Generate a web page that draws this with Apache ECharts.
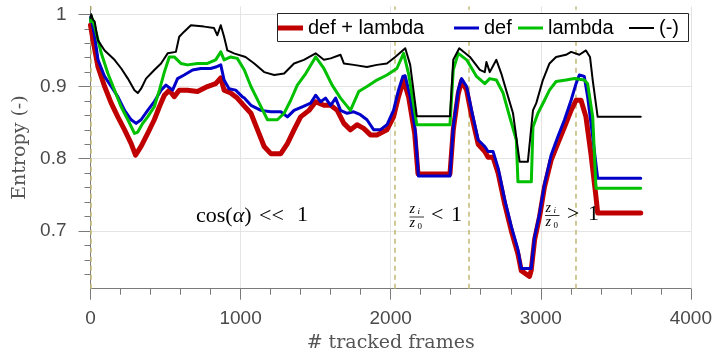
<!DOCTYPE html>
<html><head><meta charset="utf-8">
<script src="https://cdn.jsdelivr.net/npm/echarts@6/dist/echarts.min.js"></script>
<style>html,body{margin:0;padding:0;background:#fff}#c{width:715px;height:363px}</style>
</head><body><div id="c"></div>
<script>
const seriesNames = ['def + lambda', 'def', 'lambda', '(-)'];

const framesDefLambda = [0,17,50,94,138,182,227,271,300,337,381,425,459,492,525,558,591,646,713,779,834,868,890,934,978,1025,1069,1113,1157,1201,1268,1312,1356,1400,1456,1500,1555,1600,1644,1688,1732,1776,1820,1865,1908,1975,2019,2052,2086,2120,2160,2182,2395,2417,2450,2472,2506,2539,2583,2627,2649,2682,2716,2760,2804,2848,2870,2925,2936,2959,2992,3025,3069,3113,3158,3202,3235,3268,3301,3334,3368,3379,3666];
const valuesDefLambda = [0.985,0.964,0.927,0.9,0.877,0.858,0.84,0.821,0.805,0.817,0.835,0.854,0.872,0.888,0.895,0.886,0.895,0.895,0.893,0.9,0.904,0.912,0.895,0.891,0.884,0.873,0.863,0.84,0.817,0.807,0.807,0.821,0.84,0.858,0.867,0.879,0.874,0.874,0.867,0.849,0.84,0.847,0.842,0.833,0.833,0.84,0.858,0.886,0.909,0.885,0.835,0.779,0.779,0.84,0.89,0.908,0.895,0.86,0.82,0.81,0.802,0.802,0.78,0.737,0.7,0.668,0.645,0.637,0.645,0.688,0.72,0.761,0.798,0.821,0.844,0.867,0.881,0.881,0.858,0.807,0.747,0.725,0.725];

const framesDef = [0,3,28,50,94,138,182,227,271,304,337,381,425,470,503,547,580,624,680,735,801,834,868,890,923,967,1011,1025,1069,1135,1201,1268,1312,1356,1411,1467,1500,1533,1566,1600,1633,1666,1710,1754,1798,1842,1887,1930,1975,2019,2052,2081,2096,2130,2163,2185,2395,2417,2450,2472,2506,2539,2583,2627,2649,2682,2716,2760,2804,2848,2870,2936,2959,2992,3025,3069,3113,3158,3202,3235,3257,3290,3312,3346,3379,3666];
const valuesDef = [0.99,0.997,0.969,0.937,0.914,0.9,0.886,0.867,0.854,0.849,0.854,0.867,0.879,0.895,0.902,0.895,0.911,0.916,0.923,0.925,0.925,0.927,0.93,0.909,0.897,0.895,0.886,0.884,0.874,0.867,0.865,0.865,0.858,0.867,0.872,0.877,0.888,0.879,0.884,0.874,0.884,0.867,0.863,0.865,0.861,0.854,0.84,0.84,0.847,0.867,0.895,0.914,0.915,0.886,0.84,0.776,0.776,0.844,0.895,0.911,0.9,0.867,0.826,0.817,0.81,0.81,0.787,0.743,0.706,0.674,0.648,0.648,0.692,0.724,0.765,0.805,0.83,0.854,0.881,0.904,0.916,0.914,0.886,0.83,0.773,0.773];

const framesLambda = [0,5,28,72,116,160,204,249,293,315,348,381,425,459,492,525,558,602,646,713,779,834,868,890,934,978,1025,1069,1124,1179,1245,1290,1334,1378,1434,1500,1555,1610,1666,1732,1787,1842,1908,1975,2041,2086,2119,2174,2395,2417,2450,2506,2572,2627,2660,2704,2749,2793,2837,2848,2937,2948,2981,3025,3058,3102,3168,3224,3290,3312,3346,3368,3666];
const valuesLambda = [0.99,0.997,0.983,0.946,0.918,0.895,0.872,0.854,0.835,0.837,0.849,0.858,0.872,0.895,0.92,0.941,0.941,0.932,0.93,0.932,0.932,0.937,0.948,0.937,0.941,0.939,0.923,0.9,0.877,0.854,0.854,0.863,0.881,0.902,0.918,0.941,0.925,0.902,0.884,0.867,0.893,0.9,0.909,0.916,0.925,0.946,0.918,0.847,0.847,0.923,0.946,0.937,0.914,0.904,0.911,0.909,0.891,0.858,0.826,0.768,0.768,0.844,0.863,0.881,0.895,0.907,0.909,0.911,0.909,0.904,0.858,0.759,0.759];

const framesNone = [0,5,15,28,40,50,94,160,205,249,293,315,337,370,425,470,514,569,591,624,669,757,823,845,868,890,912,956,1033,1091,1157,1224,1290,1356,1422,1500,1555,1600,1666,1688,1754,1842,1908,1975,2030,2097,2130,2174,2395,2417,2457,2528,2594,2627,2638,2660,2704,2737,2782,2815,2859,2914,2948,2970,3014,3058,3102,3168,3202,3257,3301,3328,3346,3379,3666];
const valuesNone = [0.995,1.0,0.993,0.99,0.975,0.964,0.95,0.937,0.925,0.911,0.895,0.891,0.897,0.911,0.923,0.932,0.946,0.948,0.969,0.976,0.985,0.983,0.981,0.971,0.985,0.969,0.95,0.946,0.941,0.932,0.92,0.916,0.918,0.932,0.937,0.946,0.937,0.939,0.944,0.932,0.93,0.927,0.93,0.932,0.941,0.953,0.93,0.859,0.859,0.937,0.953,0.941,0.923,0.92,0.934,0.92,0.937,0.918,0.886,0.863,0.796,0.796,0.867,0.877,0.909,0.932,0.941,0.944,0.948,0.944,0.95,0.941,0.909,0.858,0.858];

const xTickValues = [0, 1000, 2000, 3000, 4000];
const yTickValues = [0.7, 0.8, 0.9, 1.0];
const yMinorTickValues = [0.64,0.66,0.68,0.72,0.74,0.76,0.78,0.82,0.84,0.86,0.88,0.92,0.94,0.96,0.98];
const regionBoundaries = [0, 2030, 2521, 3231];

const colors = ['#c00000', '#0000c8', '#00c000', '#000000'];
const widths = [5, 3, 3, 2];
const framesAll = [framesDefLambda, framesDef, framesLambda, framesNone];
const valuesAll = [valuesDefLambda, valuesDef, valuesLambda, valuesNone];

const chart = echarts.init(document.getElementById('c'), null, {renderer: 'canvas'});

const series = seriesNames.map((name, k) => ({
  name, type: 'line', showSymbol: false, symbol: 'none', animation: false,
  color: colors[k], itemStyle: {color: colors[k]},
  lineStyle: {color: colors[k], width: widths[k], join: 'round', cap: 'round'},
  data: framesAll[k].map((f, i) => [f, valuesAll[k][i]]),
  z: 2
}));
series[0].markLine = {
  silent: true, symbol: 'none', z: 1, animation: false,
  label: {show: false},
  data: yTickValues.map(v => ({yAxis: v, lineStyle: {color: '#e4e4e4', width: 1, type: 'solid'}}))
    .concat(regionBoundaries.map(v => ({xAxis: v, lineStyle: {color: '#c4bd7c', width: 1.6, type: [5, 4]}})))
};

const legendLefts = [278, 454, 518, 629];
const legends = seriesNames.map((name, k) => ({
  show: true, left: legendLefts[k], top: 18, padding: 0, selectedMode: false,
  itemWidth: 25, itemHeight: widths[k], z: 10,
  textStyle: {fontFamily: 'Liberation Sans', fontSize: 20, color: '#000'},
  data: [{name, icon: 'rect', itemStyle: {color: colors[k]}}]
}));

const serif = 'Liberation Serif';
function t(x, y, text, size, italic, extra) {
  return Object.assign({type: 'text', x, y, z: 3, silent: true, style: {
    text, fill: '#000', fontFamily: serif, fontSize: size, fontStyle: italic ? 'italic' : 'normal',
    verticalAlign: 'middle', align: 'left'}}, extra || {});
}
const graphics = [
  {type: 'rect', z: 3, silent: true, shape: {x: 277.5, y: 13.5, width: 411, height: 28},
   style: {fill: '#fff', stroke: '#262626', lineWidth: 1}},
  {type: 'text', x: 196, y: 216, z: 3, silent: true, style: {
    text: '{n|cos(}{i|α}{n|)}', fill: '#000', verticalAlign: 'middle',
    rich: {n: {fontFamily: serif, fontSize: 22, fill: '#000'}, i: {fontFamily: serif, fontSize: 22, fontStyle: 'italic', fill: '#000'}}}},
  t(259, 216, '<<', 22, false),
  t(297, 215, '1', 22, false),
  // z_i / z_0 < 1
  t(409.5, 209, 'z', 14, true), t(417.5, 212, 'i', 9, true),
  {type: 'line', z: 3, silent: true, shape: {x1: 409.5, y1: 217, x2: 424, y2: 217}, style: {stroke: '#000', lineWidth: 0.8}},
  t(409.5, 223, 'z', 14, true), t(417.5, 227, '0', 9, false),
  t(431, 215, '<', 22, false), t(451, 215, '1', 22, false),
  // z_i / z_0 > 1
  t(545.5, 208, 'z', 14, true), t(553.5, 211, 'i', 9, true),
  {type: 'line', z: 3, silent: true, shape: {x1: 545, y1: 215.5, x2: 559.5, y2: 215.5}, style: {stroke: '#000', lineWidth: 0.8}},
  t(545.5, 222, 'z', 14, true), t(553.5, 226, '0', 9, false),
  t(567, 214, '>', 22, false), t(588, 214, '1', 22, false)
];

const option = {
  animation: false,
  backgroundColor: '#fff',
  grid: {left: 90.5, right: 21.3, top: 6.4, bottom: 74.3, containLabel: false},
  legend: legends,
  xAxis: {
    type: 'value', min: 0, max: 4000, interval: 1000,
    name: '# tracked frames', nameLocation: 'middle', nameGap: 44,
    nameTextStyle: {fontFamily: 'DejaVu Serif', fontSize: 19, color: '#555'},
    axisLine: {show: true, onZero: false, lineStyle: {color: '#7a7a7a', width: 1}},
    axisTick: {show: true, inside: false, length: 11, lineStyle: {color: '#7a7a7a'}},
    minorTick: {show: true, splitNumber: 5, length: 6, lineStyle: {color: '#7a7a7a'}},
    axisLabel: {margin: 21, fontFamily: 'Liberation Sans', fontSize: 19, color: '#4a4a4a',
      customValues: xTickValues, formatter: v => String(Math.round(v))},
    splitLine: {show: true, lineStyle: {color: '#e4e4e4', width: 1}}
  },
  yAxis: [{
    type: 'value', min: 0.62, max: 1.011, position: 'left',
    name: 'Entropy (-)', nameLocation: 'middle', nameGap: 58,
    nameTextStyle: {fontFamily: 'DejaVu Serif', fontSize: 19, color: '#555'},
    axisLine: {show: true, onZero: false, lineStyle: {color: '#7a7a7a', width: 1}},
    axisTick: {show: true, inside: false, length: 12, customValues: yTickValues, lineStyle: {color: '#7a7a7a'}},
    axisLabel: {margin: 24, fontFamily: 'Liberation Sans', fontSize: 19, color: '#4a4a4a',
      customValues: yTickValues, formatter: v => String(Math.round(v * 10) / 10)},
    splitLine: {show: false}
  }, {
    type: 'value', min: 0.62, max: 1.011, position: 'left', offset: 0,
    axisLine: {show: false},
    axisTick: {show: true, inside: false, length: 6, customValues: yMinorTickValues, lineStyle: {color: '#7a7a7a'}},
    axisLabel: {show: false, customValues: []},
    splitLine: {show: false}
  }],
  series,
  graphic: graphics
};
chart.setOption(option);
</script>
</body></html>
